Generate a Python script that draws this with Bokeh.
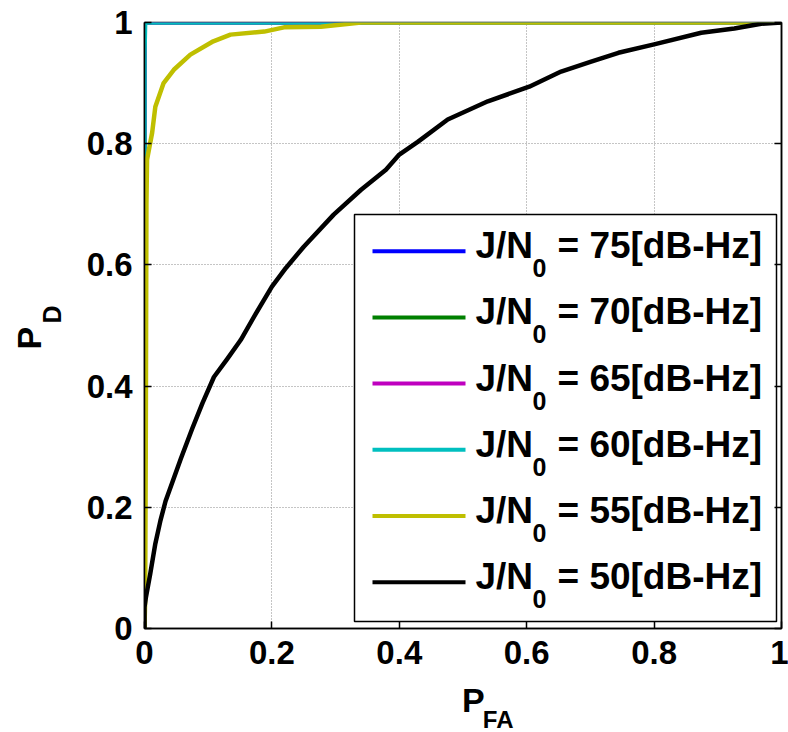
import math
from bokeh.plotting import figure
from bokeh.layouts import row, column
from bokeh.models import FixedTicker, LinearAxis, Range1d, ColumnDataSource
from bokeh.core.properties import value
from bokeh.embed import file_html
from bokeh.resources import INLINE

# ---------------- data ----------------
ticks = [0, 0.2, 0.4, 0.6, 0.8, 1]
tick_labels = ["0", "0.2", "0.4", "0.6", "0.8", "1"]

series_names = ["75", "70", "65", "60", "55", "50"]
series_colors = ["#0000FF", "#008000", "#BF00BF", "#00BFBF", "#BFBF00", "#000000"]

pfa_75 = [0, 0, 1]
pd_75 = [0, 1, 1]
pfa_70 = [0, 0, 1]
pd_70 = [0, 1, 1]
pfa_65 = [0, 0, 1]
pd_65 = [0, 1, 1]
pfa_60 = [0, 0, 0.001, 1]
pd_60 = [0, 0.95, 1, 1]
pfa_55 = [0, 0.001, 0.002, 0.003, 0.004, 0.012, 0.017, 0.03, 0.046, 0.072, 0.108,
          0.135, 0.188, 0.219, 0.277, 0.34, 1]
pd_55 = [0, 0.046, 0.3, 0.7, 0.774, 0.818, 0.861, 0.9, 0.922, 0.947, 0.969,
         0.98, 0.985, 0.992, 0.993, 1.0, 1.0]
pfa_50 = [0, 0.0, 0.002, 0.009, 0.017, 0.025, 0.033, 0.045, 0.057, 0.075, 0.091,
          0.109, 0.13, 0.151, 0.175, 0.2, 0.222, 0.25, 0.297, 0.34, 0.379, 0.4,
          0.429, 0.476, 0.539, 0.604, 0.654, 0.70, 0.744, 0.80, 0.874, 0.926,
          0.968, 1.0]
pd_50 = [0, 0.035, 0.05, 0.09, 0.14, 0.178, 0.21, 0.245, 0.28, 0.33, 0.372,
         0.415, 0.445, 0.476, 0.52, 0.564, 0.595, 0.63, 0.683, 0.724, 0.757, 0.782,
         0.803, 0.84, 0.87, 0.894, 0.919, 0.935, 0.950, 0.964, 0.983, 0.99,
         0.998, 1.0]

series_x = [pfa_75, pfa_70, pfa_65, pfa_60, pfa_55, pfa_50]
series_y = [pd_75, pd_70, pd_65, pd_60, pd_55, pd_50]

x_title, x_sub = "P", "FA"
y_title, y_sub = "P", "D"

# ---------------- layout ----------------
W, H = 788, 732
LW = 80            # width of the left title strip
BH = 54            # height of the bottom title strip
MW, MH = W - LW, H - BH
FL, FR, FT, FB = 144, 781, 22, 628   # frame in page pixels

FONT = value("Liberation Sans")


def dx(px):
    return (px - FL) / (FR - FL)


def dy(py):
    return (FB - py) / (FB - FT)


def strip(width, height):
    f = figure(width=width, height=height, x_range=Range1d(0, width),
               y_range=Range1d(0, height), output_backend="svg",
               toolbar_location=None, x_axis_location=None, y_axis_location=None,
               min_border=0, min_border_left=0, min_border_right=0,
               min_border_top=0, min_border_bottom=0)
    f.grid.visible = False
    f.outline_line_color = None
    f.background_fill_color = "white"
    f.border_fill_color = "white"
    return f


p = figure(width=MW, height=MH, x_range=Range1d(0, 1), y_range=Range1d(0, 1),
           output_backend="svg", toolbar_location=None,
           min_border_left=FL - LW, min_border_right=W - FR,
           min_border_top=FT, min_border_bottom=MH - FB)
p.background_fill_color = "white"
p.border_fill_color = "white"
p.outline_line_color = "black"
p.outline_line_width = 1.5

for ax in (p.xaxis[0], p.yaxis[0]):
    ax.ticker = FixedTicker(ticks=ticks)
    ax.major_label_overrides = {t: l for t, l in zip(ticks, tick_labels)}
    ax.major_tick_in = 7
    ax.major_tick_out = 0
    ax.minor_tick_line_color = None
    ax.axis_line_width = 1.5
    ax.axis_line_color = "black"
    ax.major_tick_line_color = "black"
    ax.major_tick_line_width = 1.5
    ax.major_label_text_font = "Liberation Sans"
    ax.major_label_text_font_style = "bold"
    ax.major_label_text_font_size = "33px"
    ax.major_label_text_color = "black"
p.xaxis.major_label_standoff = 12
p.yaxis.major_label_standoff = 12

raxis = LinearAxis(ticker=FixedTicker(ticks=ticks), major_tick_in=7, major_tick_out=0,
                   minor_tick_line_color=None, major_label_standoff=0,
                   major_label_overrides={t: "" for t in ticks},
                   axis_line_width=1.5, major_tick_line_width=1.5)
p.add_layout(raxis, "right")

p.xgrid.ticker = FixedTicker(ticks=ticks)
p.ygrid.ticker = FixedTicker(ticks=ticks)
p.grid.grid_line_color = "#8a8a8a"
p.grid.grid_line_dash = "1 2"
p.grid.grid_line_width = 1

for xs, ys, c in zip(series_x, series_y, series_colors):
    p.line(xs, ys, line_color=c, line_width=4.5, line_join="round")

# ---------------- legend (drawn manually for subscripts) ----------------
p.quad(left=[dx(354)], right=[dx(776)], top=[dy(214)], bottom=[dy(621)],
       fill_color="white", line_color="black", line_width=1.5)

n = len(series_names)
row_px = [250.7 + 66.2 * i for i in range(n)]
p.segment(x0=[dx(372)] * n, x1=[dx(465)] * n,
          y0=[dy(r) for r in row_px], y1=[dy(r) for r in row_px],
          line_color=series_colors, line_width=4)

src_main = ColumnDataSource(dict(x=[dx(475)] * n, y=[dy(r - 5.5) for r in row_px],
                                 t=["J/N"] * n))
p.text(x="x", y="y", text="t", source=src_main, text_font=FONT,
       text_font_style="bold", text_font_size="37px", text_color="black",
       text_baseline="middle", text_align="left")
src_sub = ColumnDataSource(dict(x=[dx(532)] * n, y=[dy(r + 17) for r in row_px],
                                t=["0"] * n))
p.text(x="x", y="y", text="t", source=src_sub, text_font=FONT,
       text_font_style="bold", text_font_size="25px", text_color="black",
       text_baseline="middle", text_align="left")
src_rest = ColumnDataSource(dict(x=[dx(557)] * n, y=[dy(r - 5.5) for r in row_px],
                                 t=["= " + s + "[dB-Hz]" for s in series_names]))
p.text(x="x", y="y", text="t", source=src_rest, text_font=FONT,
       text_font_style="bold", text_font_size="37px", text_color="black",
       text_baseline="middle", text_align="left")

# ---------------- axis titles with subscripts (separate strips) ----------------
left = strip(LW, H)
left.text(x=[28.5, 51], y=[H - 349, H - 323], text=[y_title, y_sub],
          angle=[math.pi / 2] * 2, text_font=FONT, text_font_style="bold",
          text_font_size=["34px", "25px"], text_color="black",
          text_baseline="middle", text_align="left")

bottom = strip(MW, BH)
bottom.text(x=[433 - LW, 456 - LW], y=[H - 699.5, H - 719], text=[x_title, x_sub],
            text_font=FONT, text_font_style="bold",
            text_font_size=["34px", "24px"], text_color="black",
            text_baseline="middle", text_align="left")

layout = row(left, column(p, bottom, spacing=0), spacing=0)

open("out.html", "w").write(file_html(layout, INLINE))
